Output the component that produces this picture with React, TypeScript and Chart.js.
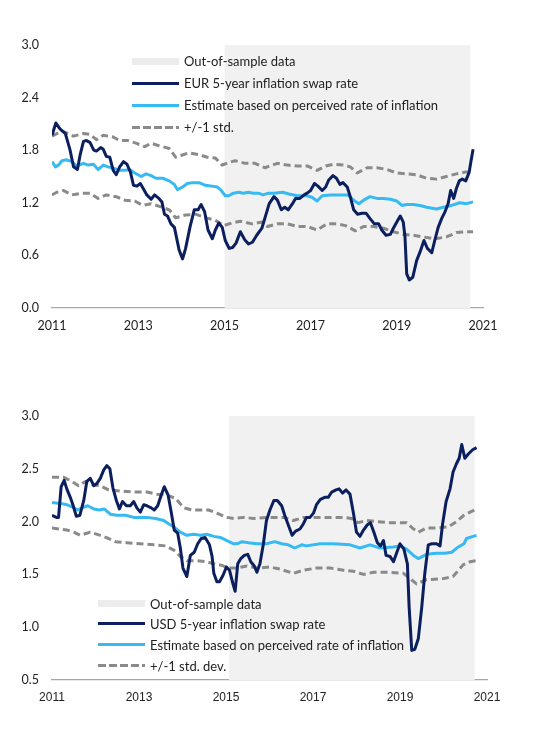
import React, { useEffect, useRef } from "react";
import { Chart, registerables } from "chart.js";

Chart.register(...registerables);

// ---------- DATA (decimal year, value) ----------
const xTickYears = [2011, 2013, 2015, 2017, 2019, 2021];
const eurYTicks = [0, 0.6, 1.2, 1.8, 2.4, 3.0];
const usdYTicks = [0.5, 1.0, 1.5, 2.0, 2.5, 3.0];

const eurOutOfSample = [[2015.0, 3.0], [2020.71, 3.0]];
const usdOutOfSample = [[2015.07, 3.0], [2020.72, 3.0]];

const eurSwap = [
  [2011.0, 1.97], [2011.09, 2.11], [2011.19, 2.04], [2011.31, 1.99], [2011.42, 1.8], [2011.5, 1.61],
  [2011.59, 1.58], [2011.65, 1.74], [2011.73, 1.9], [2011.8, 1.91], [2011.88, 1.89], [2011.97, 1.8],
  [2012.03, 1.79], [2012.13, 1.83], [2012.19, 1.81], [2012.26, 1.73], [2012.34, 1.72], [2012.42, 1.57],
  [2012.49, 1.52], [2012.57, 1.61], [2012.66, 1.67], [2012.74, 1.64], [2012.82, 1.55], [2012.89, 1.4],
  [2012.97, 1.39], [2013.05, 1.42], [2013.12, 1.36], [2013.2, 1.29], [2013.3, 1.24], [2013.38, 1.29],
  [2013.48, 1.25], [2013.55, 1.21], [2013.61, 1.07], [2013.68, 1.05], [2013.76, 0.96], [2013.84, 0.92],
  [2013.95, 0.66], [2014.03, 0.56], [2014.1, 0.68], [2014.2, 0.92], [2014.3, 1.12], [2014.39, 1.12],
  [2014.46, 1.18], [2014.54, 1.1], [2014.62, 0.89], [2014.72, 0.79], [2014.79, 0.89], [2014.87, 0.97],
  [2014.95, 0.92], [2015.02, 0.77], [2015.11, 0.68], [2015.19, 0.69], [2015.27, 0.74], [2015.37, 0.87],
  [2015.47, 0.78], [2015.56, 0.73], [2015.65, 0.75], [2015.75, 0.83], [2015.87, 0.91], [2015.96, 1.06],
  [2016.04, 1.19], [2016.15, 1.27], [2016.23, 1.23], [2016.32, 1.12], [2016.4, 1.15], [2016.48, 1.12],
  [2016.58, 1.19], [2016.65, 1.25], [2016.75, 1.25], [2016.85, 1.29], [2016.92, 1.31], [2017.0, 1.34],
  [2017.09, 1.42], [2017.17, 1.39], [2017.27, 1.34], [2017.35, 1.38], [2017.42, 1.46], [2017.52, 1.51],
  [2017.6, 1.48], [2017.68, 1.41], [2017.75, 1.43], [2017.85, 1.38], [2017.92, 1.27], [2018.0, 1.12],
  [2018.09, 1.07], [2018.19, 1.08], [2018.29, 1.08], [2018.38, 1.02], [2018.48, 0.96], [2018.58, 0.96],
  [2018.65, 0.89], [2018.75, 0.83], [2018.85, 0.84], [2018.92, 0.91], [2019.0, 0.98], [2019.08, 1.05],
  [2019.15, 0.98], [2019.19, 0.81], [2019.23, 0.39], [2019.29, 0.32], [2019.37, 0.35], [2019.46, 0.54],
  [2019.54, 0.64], [2019.63, 0.77], [2019.71, 0.68], [2019.81, 0.63], [2019.88, 0.77], [2019.96, 0.92],
  [2020.04, 1.02], [2020.12, 1.1], [2020.19, 1.19], [2020.25, 1.34], [2020.32, 1.25], [2020.38, 1.36],
  [2020.45, 1.45], [2020.52, 1.47], [2020.6, 1.45], [2020.68, 1.55], [2020.72, 1.67], [2020.77, 1.81],
];

const eurEstimate = [
  [2011.0, 1.67], [2011.08, 1.61], [2011.15, 1.63], [2011.23, 1.68], [2011.34, 1.69], [2011.46, 1.67],
  [2011.57, 1.62], [2011.73, 1.65], [2011.84, 1.63], [2011.96, 1.64], [2012.07, 1.58], [2012.19, 1.63],
  [2012.3, 1.61], [2012.46, 1.59], [2012.57, 1.57], [2012.69, 1.57], [2012.8, 1.58], [2012.92, 1.54],
  [2013.07, 1.5], [2013.18, 1.53], [2013.3, 1.51], [2013.41, 1.48], [2013.57, 1.48], [2013.72, 1.45],
  [2013.84, 1.41], [2013.91, 1.35], [2014.03, 1.38], [2014.14, 1.42], [2014.26, 1.43], [2014.41, 1.43],
  [2014.56, 1.4], [2014.72, 1.39], [2014.83, 1.38], [2014.91, 1.35], [2015.02, 1.28], [2015.1, 1.28],
  [2015.21, 1.31], [2015.33, 1.32], [2015.44, 1.31], [2015.56, 1.32], [2015.67, 1.31], [2015.79, 1.31],
  [2015.9, 1.29], [2016.02, 1.31], [2016.15, 1.31], [2016.35, 1.32], [2016.5, 1.3], [2016.69, 1.28],
  [2016.92, 1.28], [2017.04, 1.26], [2017.15, 1.22], [2017.27, 1.28], [2017.46, 1.29], [2017.69, 1.29],
  [2017.86, 1.29], [2018.0, 1.23], [2018.12, 1.19], [2018.23, 1.23], [2018.38, 1.27], [2018.54, 1.25],
  [2018.69, 1.25], [2018.85, 1.24], [2019.0, 1.22], [2019.12, 1.17], [2019.23, 1.18], [2019.38, 1.18],
  [2019.54, 1.17], [2019.69, 1.15], [2019.92, 1.13], [2020.08, 1.15], [2020.27, 1.17], [2020.46, 1.2],
  [2020.62, 1.19], [2020.77, 1.21],
];

const eurUpper = [
  [2011.0, 1.96], [2011.23, 2.02], [2011.5, 1.96], [2011.73, 1.99], [2011.88, 1.98], [2012.03, 1.92],
  [2012.19, 1.97], [2012.42, 1.95], [2012.57, 1.91], [2012.76, 1.91], [2012.95, 1.88], [2013.15, 1.84],
  [2013.3, 1.88], [2013.49, 1.85], [2013.72, 1.82], [2013.87, 1.72], [2013.99, 1.74], [2014.18, 1.77],
  [2014.41, 1.75], [2014.6, 1.72], [2014.79, 1.71], [2014.95, 1.63], [2015.1, 1.66], [2015.25, 1.68],
  [2015.48, 1.65], [2015.71, 1.65], [2015.94, 1.6], [2016.23, 1.65], [2016.46, 1.63], [2016.69, 1.62],
  [2016.92, 1.62], [2017.15, 1.57], [2017.35, 1.62], [2017.54, 1.64], [2017.77, 1.63], [2017.92, 1.61],
  [2018.08, 1.54], [2018.31, 1.6], [2018.54, 1.6], [2018.77, 1.58], [2019.0, 1.54], [2019.23, 1.53],
  [2019.46, 1.52], [2019.69, 1.48], [2019.92, 1.47], [2020.15, 1.5], [2020.38, 1.53], [2020.58, 1.55],
  [2020.77, 1.55],
];

const eurLower = [
  [2011.0, 1.29], [2011.11, 1.32], [2011.27, 1.34], [2011.46, 1.29], [2011.69, 1.31], [2011.88, 1.31],
  [2012.07, 1.25], [2012.26, 1.29], [2012.49, 1.27], [2012.69, 1.23], [2012.92, 1.22], [2013.11, 1.17],
  [2013.3, 1.19], [2013.49, 1.16], [2013.72, 1.12], [2013.87, 1.03], [2014.1, 1.06], [2014.33, 1.07],
  [2014.56, 1.03], [2014.79, 1.0], [2014.98, 0.94], [2015.18, 0.97], [2015.37, 0.99], [2015.64, 0.96],
  [2015.87, 0.98], [2016.0, 0.93], [2016.23, 0.96], [2016.46, 0.96], [2016.69, 0.93], [2016.92, 0.93],
  [2017.15, 0.89], [2017.38, 0.96], [2017.62, 0.96], [2017.81, 0.94], [2018.04, 0.88], [2018.23, 0.93],
  [2018.46, 0.93], [2018.69, 0.91], [2018.92, 0.87], [2019.15, 0.84], [2019.38, 0.83], [2019.62, 0.81],
  [2019.88, 0.79], [2020.15, 0.81], [2020.38, 0.86], [2020.58, 0.87], [2020.77, 0.87],
];

const usdSwap = [
  [2011.0, 2.06], [2011.1, 2.04], [2011.15, 2.04], [2011.21, 2.33], [2011.28, 2.39], [2011.34, 2.31],
  [2011.42, 2.23], [2011.48, 2.16], [2011.56, 2.05], [2011.64, 2.06], [2011.73, 2.2], [2011.8, 2.38],
  [2011.88, 2.41], [2011.96, 2.34], [2012.03, 2.36], [2012.11, 2.41], [2012.19, 2.49], [2012.26, 2.53],
  [2012.33, 2.5], [2012.4, 2.32], [2012.48, 2.2], [2012.55, 2.12], [2012.62, 2.19], [2012.71, 2.15],
  [2012.8, 2.15], [2012.88, 2.19], [2012.95, 2.13], [2013.03, 2.09], [2013.11, 2.16], [2013.18, 2.15],
  [2013.28, 2.13], [2013.35, 2.11], [2013.43, 2.15], [2013.51, 2.25], [2013.58, 2.33], [2013.67, 2.25],
  [2013.74, 2.09], [2013.81, 1.92], [2013.89, 1.89], [2013.95, 1.75], [2014.01, 1.56], [2014.1, 1.48],
  [2014.18, 1.68], [2014.27, 1.71], [2014.35, 1.79], [2014.43, 1.84], [2014.52, 1.85], [2014.62, 1.78],
  [2014.68, 1.67], [2014.72, 1.51], [2014.79, 1.43], [2014.85, 1.43], [2014.93, 1.49], [2015.01, 1.57],
  [2015.08, 1.54], [2015.16, 1.41], [2015.21, 1.34], [2015.27, 1.6], [2015.34, 1.65], [2015.42, 1.68],
  [2015.5, 1.69], [2015.57, 1.62], [2015.65, 1.58], [2015.71, 1.52], [2015.78, 1.6], [2015.86, 1.79],
  [2015.93, 2.01], [2016.01, 2.11], [2016.1, 2.2], [2016.18, 2.2], [2016.28, 2.15], [2016.35, 2.06],
  [2016.43, 1.97], [2016.52, 1.87], [2016.6, 1.91], [2016.7, 1.93], [2016.78, 1.98], [2016.85, 2.04],
  [2016.93, 2.04], [2017.01, 2.08], [2017.08, 2.16], [2017.17, 2.21], [2017.27, 2.23], [2017.35, 2.23],
  [2017.43, 2.28], [2017.53, 2.3], [2017.6, 2.31], [2017.68, 2.27], [2017.76, 2.3], [2017.85, 2.26],
  [2017.93, 2.08], [2018.0, 1.9], [2018.08, 1.86], [2018.16, 1.92], [2018.25, 1.97], [2018.32, 1.99],
  [2018.4, 1.9], [2018.48, 1.8], [2018.55, 1.77], [2018.62, 1.82], [2018.68, 1.68], [2018.77, 1.67],
  [2018.85, 1.62], [2018.92, 1.7], [2019.0, 1.79], [2019.09, 1.74], [2019.17, 1.6], [2019.21, 1.19],
  [2019.27, 0.78], [2019.34, 0.79], [2019.42, 0.89], [2019.5, 1.19], [2019.57, 1.51], [2019.65, 1.78],
  [2019.73, 1.79], [2019.84, 1.79], [2019.92, 1.77], [2019.98, 1.98], [2020.06, 2.19], [2020.15, 2.31],
  [2020.22, 2.47], [2020.3, 2.55], [2020.36, 2.6], [2020.42, 2.73], [2020.49, 2.6], [2020.57, 2.64],
  [2020.67, 2.68], [2020.76, 2.7],
];

const usdEstimate = [
  [2011.0, 2.18], [2011.23, 2.17], [2011.34, 2.16], [2011.46, 2.14], [2011.59, 2.11], [2011.69, 2.13],
  [2011.82, 2.15], [2011.96, 2.12], [2012.09, 2.11], [2012.2, 2.12], [2012.34, 2.07], [2012.49, 2.06],
  [2012.69, 2.06], [2012.88, 2.04], [2013.03, 2.04], [2013.18, 2.04], [2013.38, 2.03], [2013.57, 2.01],
  [2013.68, 1.98], [2013.8, 1.95], [2013.95, 1.9], [2014.1, 1.87], [2014.26, 1.88], [2014.41, 1.87],
  [2014.56, 1.88], [2014.72, 1.86], [2014.87, 1.85], [2015.02, 1.82], [2015.18, 1.79], [2015.25, 1.79],
  [2015.37, 1.81], [2015.52, 1.8], [2015.71, 1.79], [2015.93, 1.79], [2016.12, 1.81], [2016.28, 1.79],
  [2016.43, 1.78], [2016.58, 1.75], [2016.74, 1.78], [2016.85, 1.77], [2017.16, 1.79], [2017.47, 1.79],
  [2017.85, 1.78], [2018.08, 1.75], [2018.31, 1.78], [2018.54, 1.75], [2018.85, 1.76], [2019.0, 1.77],
  [2019.15, 1.74], [2019.31, 1.68], [2019.42, 1.65], [2019.61, 1.69], [2019.84, 1.7], [2020.03, 1.7],
  [2020.19, 1.71], [2020.34, 1.76], [2020.47, 1.79], [2020.53, 1.84], [2020.68, 1.86], [2020.76, 1.87],
];

const usdUpper = [
  [2011.0, 2.42], [2011.27, 2.42], [2011.46, 2.38], [2011.61, 2.34], [2011.77, 2.38], [2011.92, 2.35],
  [2012.11, 2.34], [2012.3, 2.3], [2012.57, 2.29], [2012.88, 2.28], [2013.18, 2.28], [2013.41, 2.26],
  [2013.64, 2.25], [2013.84, 2.22], [2014.03, 2.13], [2014.22, 2.11], [2014.41, 2.11], [2014.6, 2.11],
  [2014.79, 2.08], [2015.02, 2.04], [2015.18, 2.03], [2015.41, 2.04], [2015.64, 2.03], [2016.01, 2.04],
  [2016.32, 2.04], [2016.55, 2.01], [2016.78, 2.04], [2017.08, 2.04], [2017.39, 2.04], [2017.7, 2.04],
  [2017.89, 2.03], [2018.04, 1.99], [2018.23, 2.01], [2018.46, 2.0], [2018.77, 1.99], [2019.15, 1.99],
  [2019.31, 1.93], [2019.42, 1.9], [2019.61, 1.94], [2019.84, 1.94], [2020.11, 1.95], [2020.3, 2.0],
  [2020.47, 2.06], [2020.61, 2.09], [2020.76, 2.12],
];

const usdLower = [
  [2011.0, 1.94], [2011.34, 1.92], [2011.5, 1.9], [2011.65, 1.87], [2011.88, 1.9], [2012.11, 1.87],
  [2012.3, 1.84], [2012.46, 1.81], [2012.72, 1.8], [2013.03, 1.79], [2013.34, 1.78], [2013.61, 1.77],
  [2013.8, 1.73], [2013.95, 1.67], [2014.1, 1.63], [2014.33, 1.63], [2014.56, 1.62], [2014.72, 1.6],
  [2014.87, 1.59], [2015.06, 1.56], [2015.25, 1.56], [2015.48, 1.58], [2015.71, 1.56], [2016.01, 1.57],
  [2016.24, 1.55], [2016.55, 1.51], [2016.78, 1.54], [2017.08, 1.56], [2017.39, 1.56], [2017.7, 1.54],
  [2017.93, 1.53], [2018.16, 1.5], [2018.39, 1.52], [2018.69, 1.52], [2019.08, 1.51], [2019.38, 1.41],
  [2019.61, 1.45], [2019.99, 1.46], [2020.22, 1.48], [2020.45, 1.59], [2020.61, 1.62], [2020.76, 1.63],
];

// ---------- STYLE ----------
const NAVY = "#0b1f5e";
const LIGHT_BLUE = "#36baf3";
const GREY = "#8a8a8a";
const SHADE = "#f1f1f1";
const TEXT = "#222222";
const FONT = "Lato, 'Open Sans', sans-serif";

const pts = (arr: number[][]) => arr.map(([x, y]) => ({ x, y }));

type ChartProps = {
  width: number;
  height: number;
  swap: number[][];
  estimate: number[][];
  upper: number[][];
  lower: number[][];
  shade: number[][];
  yTicks: number[];
  padding: { top: number; right: number; bottom: number; left: number };
  xTickFont: { family: string; size: number };
};

function LineChart(props: ChartProps) {
  const ref = useRef<HTMLCanvasElement | null>(null);
  useEffect(() => {
    if (!ref.current) return;
    const yMin = props.yTicks[0];
    const yMax = props.yTicks[props.yTicks.length - 1];
    const lineBase = { pointRadius: 0, tension: 0, fill: false, borderJoinStyle: "round" as const };
    const chart = new Chart(ref.current, {
      type: "line",
      data: {
        datasets: [
          { ...lineBase, label: "swap", data: pts(props.swap), borderColor: NAVY, borderWidth: 3 },
          { ...lineBase, label: "estimate", data: pts(props.estimate), borderColor: LIGHT_BLUE, borderWidth: 3 },
          { ...lineBase, label: "upper", data: pts(props.upper), borderColor: GREY, borderWidth: 3, borderDash: [7, 4] },
          { ...lineBase, label: "lower", data: pts(props.lower), borderColor: GREY, borderWidth: 3, borderDash: [7, 4] },
          {
            label: "shade",
            data: pts(props.shade),
            pointRadius: 0,
            borderWidth: 0,
            borderColor: "rgba(0,0,0,0)",
            backgroundColor: SHADE,
            fill: "start",
          },
        ],
      },
      options: {
        animation: false,
        responsive: false,
        maintainAspectRatio: false,
        layout: { padding: props.padding },
        plugins: { legend: { display: false }, tooltip: { enabled: false } },
        scales: {
          x: {
            type: "linear",
            min: 2011,
            max: 2021,
            afterBuildTicks: (s: any) => {
              s.ticks = xTickYears.map((v) => ({ value: v }));
            },
            afterFit: (s: any) => {
              s.height = 30;
            },
            grid: { display: false, drawTicks: false },
            border: { display: true, color: "#a8a8a8", width: 1.2 },
            ticks: {
              color: TEXT,
              font: props.xTickFont,
              padding: 10,
              maxRotation: 0,
              autoSkip: false,
              callback: (v: any) => String(v),
            },
          },
          y: {
            type: "linear",
            min: yMin,
            max: yMax,
            afterBuildTicks: (s: any) => {
              s.ticks = props.yTicks.map((v) => ({ value: v }));
            },
            afterFit: (s: any) => {
              s.width = 44;
            },
            grid: { display: false, drawTicks: false },
            border: { display: false },
            ticks: {
              color: TEXT,
              font: { family: FONT, size: 12.5 },
              padding: 13,
              callback: (v: any) => Number(v).toFixed(1),
            },
          },
        },
      },
    });
    return () => chart.destroy();
  }, []);
  return (
    <canvas
      ref={ref}
      width={props.width}
      height={props.height}
      style={{ display: "block", width: props.width, height: props.height }}
    />
  );
}

type LegendItem = { kind: "box" | "solid" | "dashed"; color: string; label: string; top: number };

function Legend({ left, items }: { left: number; items: LegendItem[] }) {
  return (
    <>
      {items.map((it, i) => (
        <div
          key={i}
          style={{
            position: "absolute",
            left,
            top: it.top - 10,
            height: 20,
            display: "flex",
            alignItems: "center",
            fontFamily: FONT,
            fontSize: 13,
            color: TEXT,
            whiteSpace: "nowrap",
          }}
        >
          <span
            style={{
              display: "inline-block",
              width: 47,
              height: it.kind === "box" ? 7 : 3,
              marginRight: 5,
              background:
                it.kind === "dashed"
                  ? `repeating-linear-gradient(to right, ${it.color} 0 8px, transparent 8px 11px)`
                  : it.color,
            }}
          />
          <span>{it.label}</span>
        </div>
      ))}
    </>
  );
}

export default function App() {
  const W = 541;
  return (
    <div style={{ position: "relative", width: W }}>
      <div style={{ position: "relative", width: W, height: 340 }}>
        <LineChart
          width={W}
          height={340}
          swap={eurSwap}
          estimate={eurEstimate}
          upper={eurUpper}
          lower={eurLower}
          shade={eurOutOfSample}
          yTicks={eurYTicks}
          padding={{ top: 37, right: 66, bottom: 10, left: 0 }}
          xTickFont={{ family: FONT, size: 12.5 }}
        />
        <Legend
          left={124}
          items={[
            { kind: "box", color: "#ececec", label: "Out-of-sample data", top: 53 },
            { kind: "solid", color: NAVY, label: "EUR 5-year inflation swap rate", top: 75 },
            { kind: "solid", color: LIGHT_BLUE, label: "Estimate based on perceived rate of inflation", top: 97 },
            { kind: "dashed", color: GREY, label: "+/-1 std.", top: 119 },
          ]}
        />
      </div>
      <div style={{ position: "relative", width: W, height: 370 }}>
        <LineChart
          width={W}
          height={370}
          swap={usdSwap}
          estimate={usdEstimate}
          upper={usdUpper}
          lower={usdLower}
          shade={usdOutOfSample}
          yTicks={usdYTicks}
          padding={{ top: 68, right: 62, bottom: 8, left: 0 }}
          xTickFont={{ family: "'Liberation Sans', Arial, sans-serif", size: 12 }}
        />
        <Legend
          left={90}
          items={[
            { kind: "box", color: "#ececec", label: "Out-of-sample data", top: 255.5 },
            { kind: "solid", color: NAVY, label: "USD 5-year inflation swap rate", top: 275.5 },
            { kind: "solid", color: LIGHT_BLUE, label: "Estimate based on perceived rate of inflation", top: 296.5 },
            { kind: "dashed", color: GREY, label: "+/-1 std. dev.", top: 317.5 },
          ]}
        />
      </div>
    </div>
  );
}
